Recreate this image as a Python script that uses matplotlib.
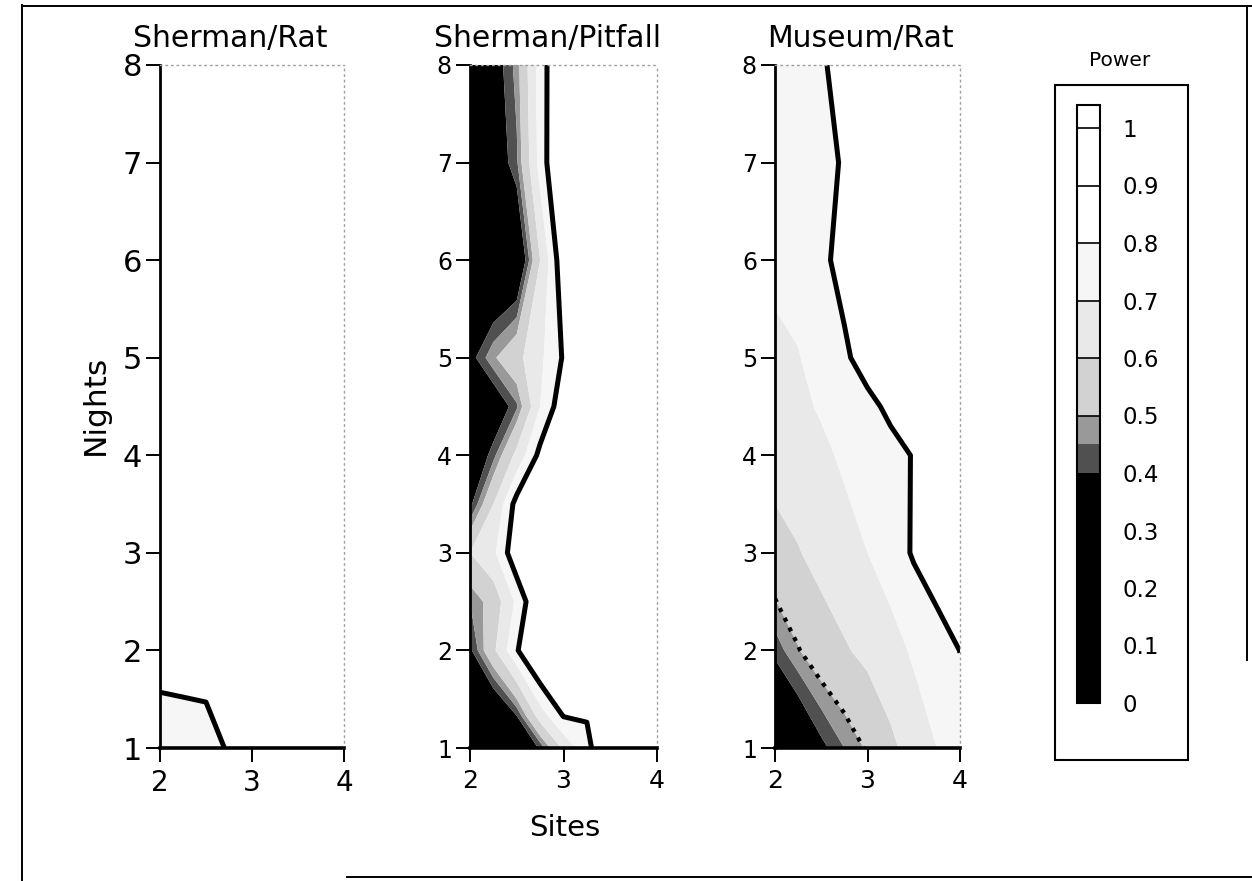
import numpy as np
import matplotlib
matplotlib.use("Agg")
import matplotlib.pyplot as plt
from matplotlib.colors import ListedColormap, BoundaryNorm
from matplotlib.cm import ScalarMappable
from matplotlib.lines import Line2D
from matplotlib.patches import Rectangle

# сетка: число точек отлова (Sites) и ночей (Nights)
sites = [2.0, 2.25, 2.5, 2.75, 3.0, 3.25, 3.5, 3.75, 4.0]

nights_rat = [1, 2, 3, 4, 5, 6, 7, 8]
power_sherman_rat = [
    [0.72, 0.74, 0.76, 0.81, 0.84, 0.86, 0.88, 0.90, 0.91],
    [0.86, 0.855, 0.845, 0.88, 0.90, 0.92, 0.93, 0.94, 0.95],
    [0.90, 0.90, 0.91, 0.92, 0.93, 0.94, 0.95, 0.96, 0.96],
    [0.92, 0.93, 0.94, 0.95, 0.96, 0.96, 0.97, 0.97, 0.98],
    [0.94, 0.95, 0.96, 0.96, 0.97, 0.97, 0.98, 0.98, 0.98],
    [0.95, 0.96, 0.97, 0.97, 0.98, 0.98, 0.98, 0.99, 0.99],
    [0.96, 0.97, 0.97, 0.98, 0.98, 0.99, 0.99, 0.99, 0.99],
    [0.97, 0.97, 0.98, 0.98, 0.99, 0.99, 0.99, 0.99, 0.99],
]

nights_pitfall = [1, 1.33, 2, 2.5, 3, 3.5, 4, 4.5, 5, 6, 7, 8]
power_sherman_pitfall = [
    [0.20, 0.25, 0.30, 0.41, 0.62, 0.78, 0.88, 0.92, 0.95],
    [0.20, 0.27, 0.40, 0.65, 0.805, 0.805, 0.88, 0.93, 0.95],
    [0.385, 0.58, 0.79, 0.955, 0.97, 0.97, 0.975, 0.98, 0.98],
    [0.45, 0.54, 0.72, 0.92, 0.95, 0.96, 0.97, 0.975, 0.98],
    [0.60, 0.68, 0.88, 0.95, 0.96, 0.97, 0.975, 0.98, 0.98],
    [0.38, 0.60, 0.84, 0.93, 0.95, 0.96, 0.97, 0.975, 0.98],
    [0.30, 0.43, 0.63, 0.83, 0.90, 0.93, 0.95, 0.96, 0.97],
    [0.27, 0.32, 0.44, 0.70, 0.87, 0.92, 0.94, 0.96, 0.97],
    [0.37, 0.49, 0.57, 0.68, 0.81, 0.90, 0.93, 0.95, 0.96],
    [0.20, 0.24, 0.28, 0.60, 0.88, 0.92, 0.94, 0.96, 0.97],
    [0.25, 0.33, 0.44, 0.74, 0.95, 0.95, 0.96, 0.965, 0.975],
    [0.25, 0.35, 0.47, 0.75, 0.92, 0.93, 0.94, 0.955, 0.97],
]

nights_museum = [1, 2, 3, 4, 4.5, 5, 6, 7, 8]
power_museum_rat = [
    [0.20, 0.29, 0.38, 0.45, 0.51, 0.58, 0.64, 0.70, 0.76],
    [0.42, 0.495, 0.555, 0.59, 0.625, 0.66, 0.715, 0.76, 0.801],
    [0.57, 0.595, 0.63, 0.665, 0.70, 0.75, 0.81, 0.85, 0.88],
    [0.63, 0.65, 0.68, 0.715, 0.74, 0.77, 0.805, 0.85, 0.90],
    [0.66, 0.68, 0.71, 0.745, 0.775, 0.82, 0.86, 0.90, 0.93],
    [0.68, 0.695, 0.74, 0.785, 0.84, 0.88, 0.91, 0.93, 0.95],
    [0.72, 0.74, 0.78, 0.83, 0.86, 0.90, 0.92, 0.94, 0.96],
    [0.73, 0.75, 0.77, 0.81, 0.86, 0.90, 0.92, 0.94, 0.96],
    [0.74, 0.76, 0.79, 0.83, 0.87, 0.90, 0.92, 0.94, 0.96],
]

panel_titles = ["Sherman/Rat", "Sherman/Pitfall", "Museum/Rat"]

# уровни мощности и оттенки серого
levels = [0, 0.4, 0.45, 0.5, 0.6, 0.7, 0.8, 1.0]
fill_colors = ["black", "#505050", "#999999", "#d2d2d2", "#e9e9e9", "#f6f6f6", "white"]

bar_bounds = [0, 0.4, 0.45, 0.5, 0.6, 0.7, 0.8, 0.9, 1.0, 1.04]
bar_colors = ["black", "#505050", "#999999", "#d2d2d2", "#e9e9e9", "#f6f6f6",
              "white", "white", "white"]
bar_ticks = [0, 0.1, 0.2, 0.3, 0.4, 0.5, 0.6, 0.7, 0.8, 0.9, 1.0]
bar_labels = ["0", "0.1", "0.2", "0.3", "0.4", "0.5", "0.6", "0.7", "0.8", "0.9", "1"]

W, H = 1252, 881
fig = plt.figure(figsize=(W / 100, H / 100), dpi=100)


def px_box(x0, x1, y_top, y_bot):
    """прямоугольник в пикселях -> координаты фигуры"""
    return [x0 / W, 1 - y_bot / H, (x1 - x0) / W, (y_bot - y_top) / H]


panels = [
    (nights_rat, power_sherman_rat, (160, 344)),
    (nights_pitfall, power_sherman_pitfall, (470, 657)),
    (nights_museum, power_museum_rat, (775, 960)),
]
title_x = [230, 547, 860]

for i, (nights, power, (x0, x1)) in enumerate(panels):
    ax = fig.add_axes(px_box(x0, x1, 65, 748))
    z = np.array(power)
    ax.contourf(sites, nights, z, levels=levels, colors=fill_colors, antialiased=True)
    ax.contour(sites, nights, z, levels=[0.8], colors="black", linewidths=3.6)
    if i == 2:
        ax.contour(sites, nights, z, levels=[0.5], colors="black",
                   linewidths=3.0, linestyles=[(0, (1, 1.6))])

    ax.set_xlim(2, 4)
    ax.set_ylim(1, 8)
    ax.set_xticks([2, 3, 4])
    ax.set_yticks([1, 2, 3, 4, 5, 6, 7, 8])

    ax.spines["left"].set_linewidth(2.0)
    ax.spines["bottom"].set_linewidth(2.6)
    for side in ("top", "right"):
        ax.spines[side].set_color("#a0a0a0")
        ax.spines[side].set_linewidth(1.0)
        ax.spines[side].set_linestyle((0, (1, 3)))

    if i == 0:
        ysize, xsize = 22, 20
    else:
        ysize, xsize = 17, 18
    ax.tick_params(axis="y", direction="out", length=10, width=1.4, labelsize=ysize, pad=3)
    ax.tick_params(axis="x", direction="out", length=10, width=1.4, labelsize=xsize, pad=5)

    fig.text(title_x[i] / W, 1 - 38 / H, panel_titles[i], ha="center", va="center",
             fontsize=21.5)

fig.text(95 / W, 1 - 405 / H, "Nights", rotation=90, ha="center", va="center", fontsize=22.5)
fig.text(565 / W, 1 - 828 / H, "Sites", ha="center", va="center", fontsize=21)

# шкала мощности
cax = fig.add_axes(px_box(1077, 1100, 105, 703))
cmap = ListedColormap(bar_colors)
norm = BoundaryNorm(bar_bounds, cmap.N)
sm = ScalarMappable(norm=norm, cmap=cmap)
cb = fig.colorbar(sm, cax=cax, spacing="proportional", ticks=bar_ticks)
cb.set_ticklabels(bar_labels)
cb.outline.set_linewidth(1.5)
cb.ax.minorticks_off()
cb.ax.tick_params(which="both", length=0, labelsize=16.5, pad=16)
for y in [0.5, 0.6, 0.7, 0.8, 0.9, 1.0]:
    cax.axhline(y, color="black", linewidth=1.2)

fig.text(1120 / W, 1 - 60 / H, "Power", ha="center", va="center", fontsize=14.5)
fig.patches.append(Rectangle((1055 / W, 1 - 760 / H), 133 / W, 675 / H,
                             transform=fig.transFigure, fill=False,
                             edgecolor="black", linewidth=1.5))

# рамка всей картинки
frame = [
    ((22, 22), (5, 881)),
    ((22, 1252), (6, 6)),
    ((347, 1252), (877, 877)),
    ((1247, 1247), (6, 660)),
]
for xs, ys in frame:
    fig.lines.append(Line2D([x / W for x in xs], [1 - y / H for y in ys],
                            transform=fig.transFigure, color="black", linewidth=1.4))

fig.savefig("out.png", dpi=100)
plt.close(fig)
